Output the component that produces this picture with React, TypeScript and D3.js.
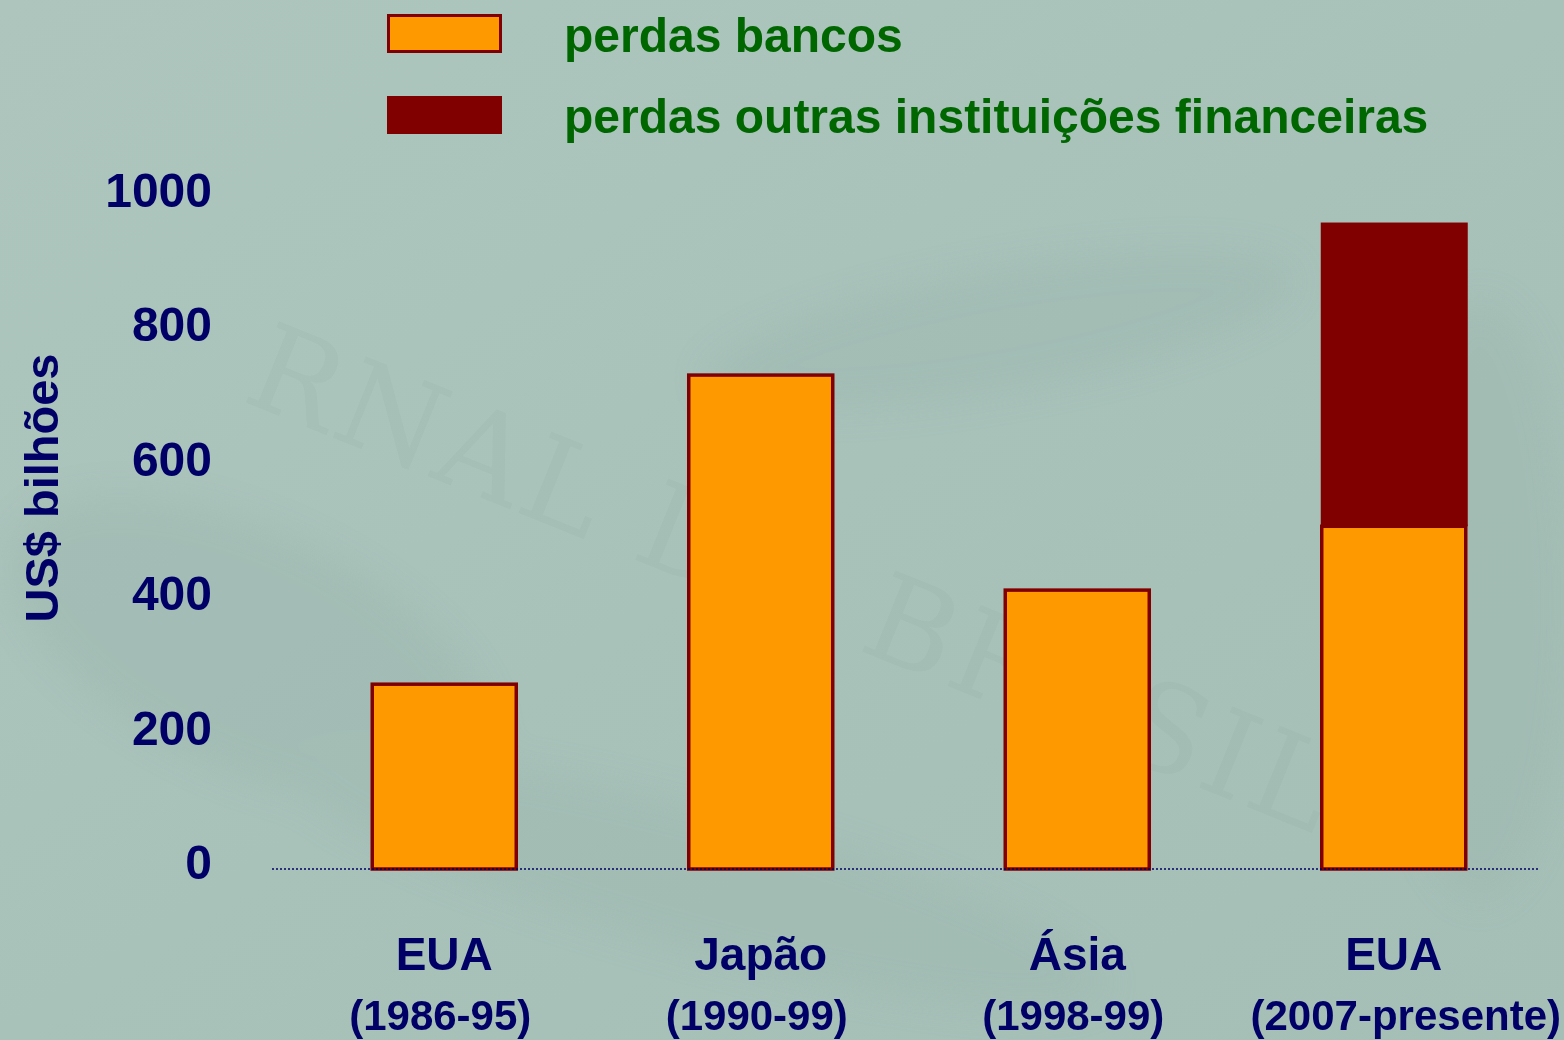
import React from "react";
import * as d3 from "d3";

const categories = ["EUA|(1986-95)", "Japão|(1990-99)", "Ásia|(1998-99)", "EUA|(2007-presente)"];
const bankLosses = [275, 735, 415, 510];
const otherLosses = [0, 0, 0, 452];
const yTicks = [0, 200, 400, 600, 800, 1000];
const legendLabels = ["perdas bancos", "perdas outras instituições financeiras"];
const yTitle = "US$ bilhões";

const W = 1564;
const H = 1040;
const NAVY = "#000066";
const GREEN = "#006600";
const ORANGE = "#FF9900";
const DARK = "#800000";
const FONT = "'Liberation Sans', Arial, Helvetica, sans-serif";

export default function App() {
  const x = d3
    .scaleBand<string>()
    .domain(categories)
    .range([286, 1552])
    .paddingInner(0.545)
    .paddingOuter(0.2725);
  const y = d3.scaleLinear().domain([0, 1000]).range([869, 197]);
  const bw = x.bandwidth();

  return (
    <svg
      width={W}
      height={H}
      style={{ position: "absolute", left: 0, top: 0, display: "block" }}
      fontFamily={FONT}
    >
      <defs>
        <linearGradient id="bg" x1="0" y1="0" x2="1" y2="1">
          <stop offset="0" stopColor="#adc5bd" />
          <stop offset="0.5" stopColor="#a8c2ba" />
          <stop offset="1" stopColor="#a5bfb7" />
        </linearGradient>
        <filter id="blur">
          <feGaussianBlur stdDeviation="18" />
        </filter>
      </defs>
      <rect x={0} y={0} width={W} height={H} fill="url(#bg)" />
      {/* faint photo texture */}
      <g filter="url(#blur)" opacity={0.22}>
        <ellipse cx={250} cy={650} rx={260} ry={120} fill="#8faaa2" transform="rotate(25 250 650)" />
        <ellipse cx={1000} cy={330} rx={300} ry={60} fill="#90aca4" transform="rotate(-10 1000 330)" />
        <ellipse cx={1480} cy={600} rx={90} ry={300} fill="#94aea6" />
        <ellipse cx={700} cy={880} rx={420} ry={70} fill="#93aea6" transform="rotate(15 700 880)" />
      </g>
      <text
        x={0}
        y={0}
        transform="translate(240,400) rotate(22)"
        fontFamily="'DejaVu Serif', 'Liberation Serif', serif"
        fontSize={120}
        fill="#5d7a72"
        opacity={0.05}
        letterSpacing={4}
      >
        RNAL DO BRASIL
      </text>

      {/* legend */}
      <rect x={388.5} y={15.5} width={112} height={36} fill={ORANGE} stroke={DARK} strokeWidth={3} />
      <rect x={387} y={96} width={115} height={38} fill={DARK} />
      <text x={564} y={52} fontSize={48} fontWeight="bold" fill={GREEN}>
        {legendLabels[0]}
      </text>
      <text x={564} y={133} fontSize={48} fontWeight="bold" fill={GREEN}>
        {legendLabels[1]}
      </text>

      {/* y ticks */}
      {yTicks.map((t) => (
        <text key={t} x={212} y={y(t) + 10} fontSize={48} fontWeight="bold" fill={NAVY} textAnchor="end">
          {t}
        </text>
      ))}
      <text
        transform="translate(58,488) rotate(-90)"
        fontSize={47}
        fontWeight="bold"
        fill={NAVY}
        textAnchor="middle"
      >
        {yTitle}
      </text>

      {/* bars */}
      {categories.map((c, i) => {
        const x0 = x(c)!;
        const b = bankLosses[i];
        const o = otherLosses[i];
        return (
          <g key={c}>
            {o > 0 && (
              <rect
                x={x0 - 1}
                y={y(b + o)}
                width={bw + 3}
                height={y(b) - y(b + o)}
                fill={DARK}
              />
            )}
            <rect
              x={x0}
              y={y(b)}
              width={bw}
              height={y(0) - y(b)}
              fill={ORANGE}
              stroke={DARK}
              strokeWidth={3.5}
            />
          </g>
        );
      })}

      {/* baseline */}
      <line
        x1={272}
        x2={1538}
        y1={y(0)}
        y2={y(0)}
        stroke={NAVY}
        strokeWidth={1.5}
        strokeDasharray="2,2"
      />

      {/* category labels */}
      {categories.map((c) => {
        const [l1, l2] = c.split("|");
        const cx = x(c)! + bw / 2;
        return (
          <g key={"l" + c}>
            <text x={cx} y={970} fontSize={46} fontWeight="bold" fill={NAVY} textAnchor="middle">
              {l1}
            </text>
            <text x={cx + (l2.length > 10 ? 12 : -4)} y={1030} fontSize={42} fontWeight="bold" fill={NAVY} textAnchor="middle">
              {l2}
            </text>
          </g>
        );
      })}
    </svg>
  );
}
